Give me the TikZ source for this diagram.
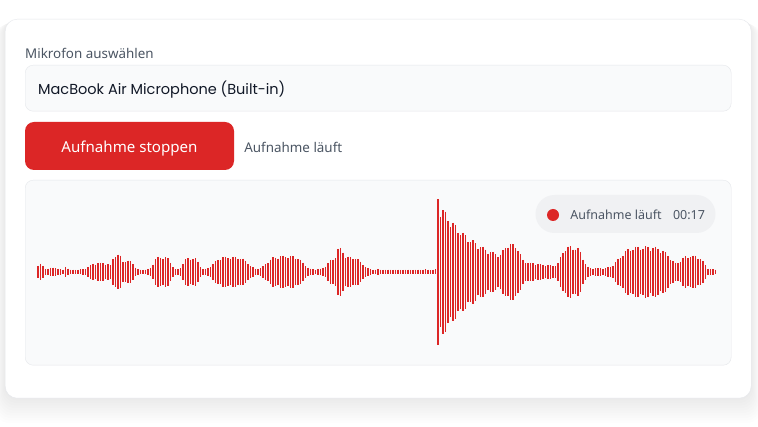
\documentclass[tikz,border=0pt]{standalone}
\usepackage{fontspec}
\setmainfont{Noto Sans}
\newfontfamily\selfont{Poppins}
\usetikzlibrary{positioning}
\definecolor{rec}{HTML}{DC2626}
\definecolor{edge}{HTML}{E5E7EB}
\definecolor{soft}{HTML}{F9FAFB}
\definecolor{pill}{HTML}{F0F1F3}
\definecolor{muted}{HTML}{4B5563}
\definecolor{ink}{HTML}{111827}
\tikzset{
  field/.style={draw=edge, fill=soft, rounded corners=8pt, anchor=north west, inner sep=0pt},
  lbl/.style={anchor=west, inner sep=0pt, text=muted, font=\fontsize{13.4}{15}\selectfont},
  btn/.style={fill=rec, rounded corners=9pt, text=white, minimum width=209pt, minimum height=48pt,
    text height=15pt, text depth=2pt, font=\fontsize{15.1}{18}\selectfont},
  pillbox/.style={fill=pill, rounded corners=19pt, minimum width=180pt, minimum height=38pt},
  wavebar/.style={rec, line width=1.6pt},
}
\begin{document}
\begin{tikzpicture}[x=1pt, y=-1pt,
  declare function={
    bump(\x,\a,\c,\w)=\a*exp(-pow(min(abs((\x-\c)/\w),2.5),4));
    env(\x)=2.5+bump(\x,6,40,3.5)+bump(\x,2,52,7)+bump(\x,3.5,66,2)
      +bump(\x,7,100,12)+bump(\x,15,117,5)+bump(\x,9,128,7)
      +bump(\x,13,162,10)+bump(\x,12,191,9)+bump(\x,13,231,19)
      +bump(\x,14,285,20)+bump(\x,13,345,19)+bump(\x,9,340,4)
      +bump(\x,15,512,9)+bump(\x,21,572,12)+bump(\x,23,645,28)
      +bump(\x,14,692,13)
      +(\x>437)*70*exp((438-max(\x,438))/40);
  }]
\useasboundingbox (0,0) rectangle (758,427);
\fill[white] (0,0) rectangle (758,427);
% soft shadow under the card
\foreach \s in {1,...,10}
  \fill[black, opacity=.009, rounded corners=14pt] (5-\s,19+.5*\s) rectangle (751+\s,398+2.5*\s);
\node[field, fill=white, rounded corners=12pt, minimum width=746pt, minimum height=379pt] (card) at (5,19) {};

\node[lbl] (miclbl) at (25,53) {Mikrofon auswählen};
\node[field, minimum width=706pt, minimum height=46pt] (select) at (25,65) {};
\node[anchor=west, inner sep=0pt, text=ink, font=\selfont\fontsize{14.5}{17}\selectfont] (micname) at (38,89.5) {MacBook Air Microphone (Built-in)};

\node[btn] (stop) at (129.5,146) {Aufnahme stoppen};
\node[lbl, right=10pt of stop, yshift=-1pt] (status) {Aufnahme läuft};

\node[field, minimum width=706pt, minimum height=185pt] (wavebox) at (25,180) {};
\node[pillbox] (badge) at (625.5,214) {};
\node[circle, fill=rec, minimum size=12pt, inner sep=0pt] (dot) at (553,215) {};
\node[lbl, font=\fontsize{12.5}{14}\selectfont, right=11pt of dot] (badgetxt) {Aufnahme läuft};
\node[lbl, font=\fontsize{12.5}{14}\selectfont, right=11pt of badgetxt] (timer) {00:17};

% waveform
\foreach \i in {0,...,271}{
  \pgfmathsetmacro\bx{38+2.5*\i}
  \pgfmathsetmacro\ba{env(\bx)*ifthenelse(\i==160,1,0.78+0.22*abs(sin(\i*47)))}
  \draw[wavebar] (\bx,272-\ba) -- (\bx,272+\ba);
}
\end{tikzpicture}
\end{document}
